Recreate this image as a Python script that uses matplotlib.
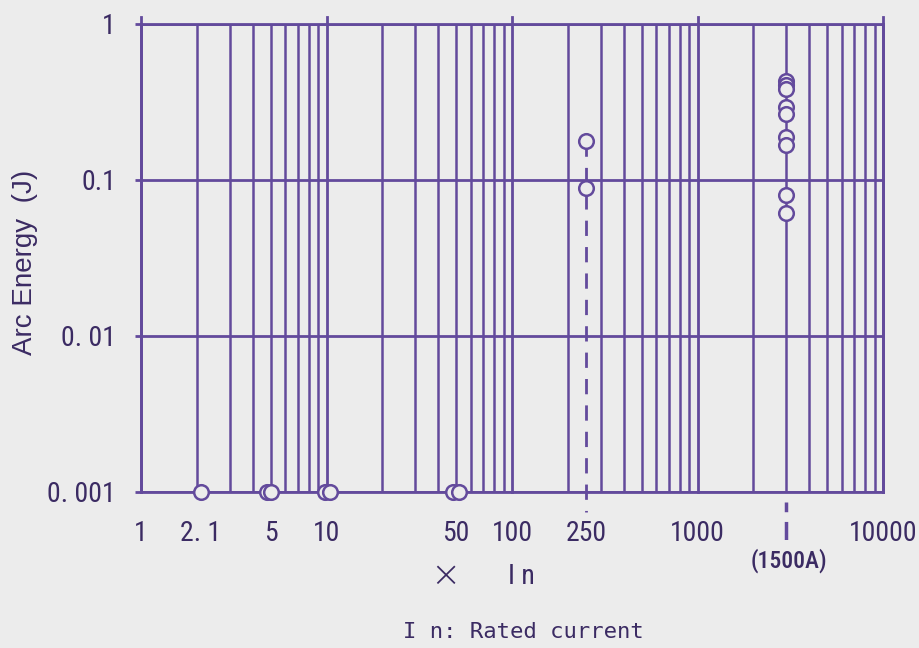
import numpy as np
import matplotlib
matplotlib.use("Agg")
import matplotlib.pyplot as plt
import matplotlib.transforms as mtransforms

# ---- data ----
x_ticks = [1, 2.1, 5, 10, 50, 100, 250, 1000, 10000]
x_tick_labels = ["1", "2. 1", "5", "10", "50", "100", "250", "1000", "10000"]
y_ticks = [0.001, 0.01, 0.1, 1]
y_tick_labels = ["0. 001", "0. 01", "0.1", "1"]

bottom_x = [2.1, 4.75, 5.05, 9.85, 10.4, 48.0, 51.5]
bottom_y = [0.001] * len(bottom_x)

x_250 = 250
y_250 = [0.179, 0.089]

x_1500A = 3000
y_1500A = [0.432, 0.407, 0.384, 0.293, 0.266, 0.188, 0.168, 0.0805, 0.0615]

# ---- style ----
BG = "#ececec"
LINE = "#634a9c"
TXT = "#3b2b63"
plt.rcParams["lines.scale_dashes"] = False

W, H = 920, 648
fig = plt.figure(figsize=(W / 100, H / 100), dpi=100, facecolor=BG)
L, R, T, B = 141, 883, 24, 492
ax = fig.add_axes([L / W, 1 - B / H, (R - L) / W, (B - T) / H])
ax.set_facecolor("none")
ax.set_xscale("log")
ax.set_yscale("log")
ax.set_xlim(1, 10000)
ax.set_ylim(0.001, 1)

for s in ax.spines.values():
    s.set_color(LINE)
    s.set_linewidth(2)

# vertical grid: majors extend slightly above the frame
ext = 1 + 7 / (B - T)
for dec in range(0, 4):
    base = 10 ** dec
    ax.axvline(base, ymin=0, ymax=ext, color=LINE, lw=2, clip_on=False, zorder=1)
    for m in range(2, 10):
        ax.axvline(base * m, color=LINE, lw=1.8, zorder=1)
ax.axvline(10000, ymin=0, ymax=ext, color=LINE, lw=2, clip_on=False, zorder=1)
for yv in y_ticks:
    ax.axhline(yv, color=LINE, lw=2, zorder=1)

# ticks / labels
label_font = ["Roboto Condensed", "Roboto", "DejaVu Sans"]
ax.set_xticks(x_ticks)
ax.set_xticklabels(x_tick_labels, family=label_font, fontsize=20, color=TXT)
ax.set_xticks([], minor=True)
ax.tick_params(axis="x", which="both", length=0, pad=20)
ax.set_yticks(y_ticks)
ax.set_yticklabels(y_tick_labels, family=label_font, fontsize=20, color=TXT)
ax.set_yticks([], minor=True)
ax.tick_params(axis="y", which="major", length=4, width=2, color=LINE, pad=14)

# dashed line at 250
y_low = 10 ** (np.log10(0.001) - 20 / 156)
ax.plot([x_250, x_250], [max(y_250), y_low], color=LINE, lw=2,
        linestyle=(0, (11, 8)), clip_on=False, zorder=2)

# dashed marker below 1500A column
trans = mtransforms.blended_transform_factory(ax.transData, ax.transAxes)
ax.plot([x_1500A, x_1500A], [-10 / (B - T), -48 / (B - T)], transform=trans,
        color=LINE, lw=2.5, linestyle=(0, (7, 7, 13, 2)), clip_on=False)

# points
mk = dict(marker="o", markersize=10.5, markerfacecolor=BG, markeredgecolor=LINE,
          markeredgewidth=1.8, linestyle="none", clip_on=False, zorder=5)
ax.plot(bottom_x, bottom_y, **mk)
ax.plot([x_250] * len(y_250), y_250, **mk)
ax.plot([x_1500A] * len(y_1500A), y_1500A, **mk)

# extra texts
fig.text(789 / W, 1 - 561 / H, "(1500A)", ha="center", va="center",
         family=label_font, fontsize=17, fontweight="medium", color=TXT)
fig.text(445 / W, 1 - 576 / H, "×", ha="center", va="center",
         family="DejaVu Sans", fontsize=26, fontweight="light", color=TXT)
fig.text(521 / W, 1 - 576 / H, "I n", ha="center", va="center",
         family=label_font, fontsize=20, color=TXT)
fig.text(403 / W, 1 - 632 / H, "I n: Rated current", ha="left", va="center",
         family=["DejaVu Sans Mono"], fontsize=16, color=TXT)
fig.text(25 / W, 1 - 262 / H, "Arc Energy  (J)", ha="center", va="center",
         rotation=90, family=["Liberation Sans", "DejaVu Sans"], fontsize=20,
         color=TXT)

fig.savefig("out.png", dpi=100, facecolor=BG)
